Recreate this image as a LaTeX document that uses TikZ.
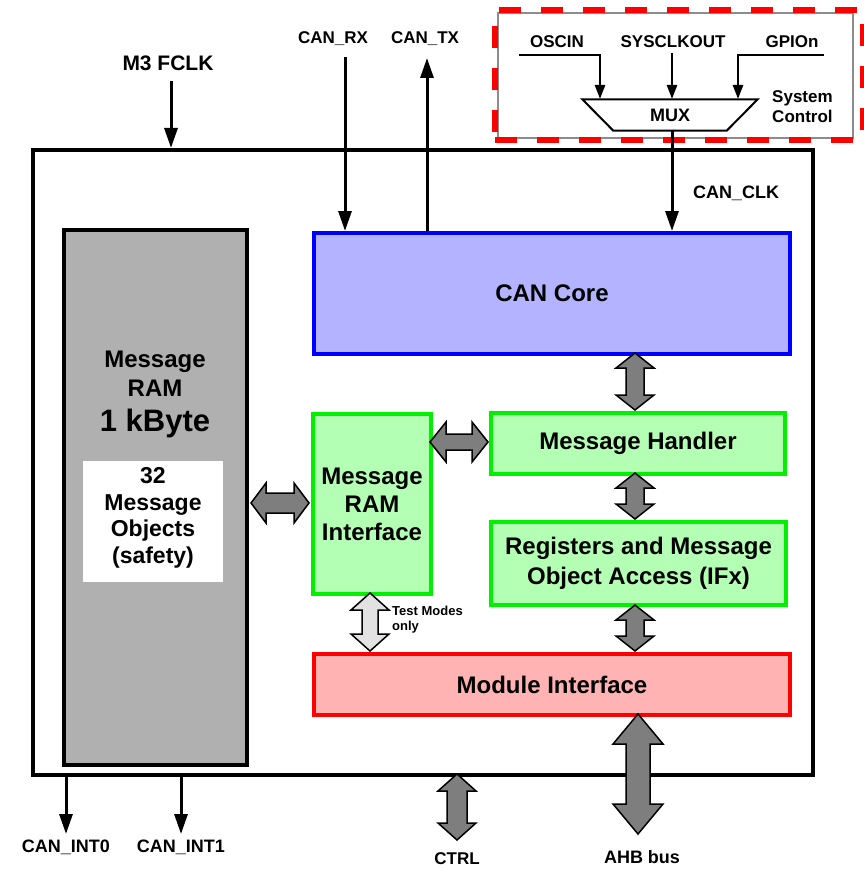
\documentclass[tikz,border=0pt]{standalone}
\usepackage{fontspec}
\setmainfont{Liberation Sans}
\usetikzlibrary{arrows.meta,calc,positioning}

\definecolor{coreblue}{HTML}{B3B3FF}
\definecolor{ramgreen}{HTML}{B3FFB3}
\definecolor{edgegreen}{HTML}{00F000}
\definecolor{modred}{HTML}{FFB3B3}
\definecolor{ramgray}{HTML}{B0B0B0}
\definecolor{busgray}{HTML}{7E7E7E}
\definecolor{testgray}{HTML}{E2E2E2}

% double block arrow, vertical: top, bottom, shaft half, head half, head length, fill
\newcommand{\vbus}[6]{%
  \draw[busline, fill=#6] (#1) -- ++(#4,#5) -- ++({#3-#4},0) -- ($(#2)+(#3,-#5)$)
    -- ++({#4-#3},0) -- (#2) -- ++(-#4,-#5) -- ++({#4-#3},0) -- ($(#1)+(-#3,#5)$)
    -- ++({#3-#4},0) -- cycle;}
% double block arrow, horizontal: left, right, shaft half, head half, head length, fill
\newcommand{\hbus}[6]{%
  \draw[busline, fill=#6] (#1) -- ++(#5,-#4) -- ++(0,{#4-#3}) -- ($(#2)+(-#5,-#3)$)
    -- ++(0,{#3-#4}) -- (#2) -- ++(-#5,#4) -- ++(0,{#3-#4}) -- ($(#1)+(#5,#3)$)
    -- ++(0,{#4-#3}) -- cycle;}

\begin{document}
\begin{tikzpicture}[x=1pt, y=-1pt,
	box/.style={draw, line width=4pt, anchor=north west, inner sep=0pt, align=center, font=\bfseries\fontsize{24}{29}\selectfont},
	lbl/.style={font=\bfseries\fontsize{17}{20}\selectfont, inner sep=0pt, align=center},
	sig/.style={line width=3pt, -{Triangle[length=20pt,width=13pt]}},
	muxin/.style={line width=2.5pt, -{Triangle[length=14pt,width=10pt]}},
	busline/.style={line width=1.5pt, draw=black, line join=miter}]
	\useasboundingbox[fill=white] (0,0) rectangle (863,869);

	% system control
	\draw[gray!90, line width=2pt] (498,13) rectangle (853,138);
	\node[draw=red, line width=6pt, dash pattern=on 22pt off 20pt, anchor=north west, minimum width=368pt, minimum height=130pt] (sysbox) at (492,7) {};
	\node[minimum width=175pt, minimum height=31pt, inner sep=0pt, font=\bfseries\fontsize{18}{20}\selectfont] (mux) at (670,115) {MUX};
	\draw[line width=2pt] (mux.north west) -- (mux.north east) -- ($(mux.south east)+(-31,0)$) -- ($(mux.south west)+(31,0)$) -- cycle;
	\node[lbl] (osc) at (557,42) {OSCIN};
	\node[lbl] (sysclk) at (673,42) {SYSCLKOUT};
	\node[lbl] (gpio) at (792,42) {GPIOn};
	\node[lbl, anchor=west] (sysctl) at (772,107) {System\\Control};
	\coordinate (oscin) at (519,55);
	\coordinate (sysin) at (672,53);
	\coordinate (gpioin) at (824,55);
	\coordinate (in1) at (600,99);
	\coordinate (in2) at (672,99);
	\coordinate (in3) at (738,99);
	\draw[muxin] (oscin) -| (in1);
	\draw[muxin] (sysin) -- (in2);
	\draw[muxin] (gpioin) -| (in3);

	% can module
	\node[box, line width=4pt, minimum width=780pt, minimum height=625pt] (can) at (31,148) {};
	\node[box, fill=ramgray, minimum width=183pt, minimum height=535pt] (ram) at (62,228) {};
	\node[anchor=north west, fill=white, minimum width=140pt, minimum height=121pt] (objbox) at (83,461) {};
	\node[lbl, font=\bfseries\fontsize{24}{29}\selectfont] (ramlbl) at (155,374) {Message\\RAM};
	\node[lbl, font=\bfseries\fontsize{31}{34}\selectfont] (ramsize) at (155,423) {1 kByte};
	\node[lbl, font=\bfseries\fontsize{23}{26.5}\selectfont] (objs) at (153,518) {32\\Message\\Objects\\(safety)};

	\node[box, draw=blue, fill=coreblue, minimum width=476pt, minimum height=121pt] (core) at (312,231) {CAN Core};
	\node[box, draw=edgegreen, fill=ramgreen, minimum width=118pt, minimum height=180pt, font=\bfseries\fontsize{24}{28}\selectfont] (mri) at (311,412) {Message\\RAM\\Interface};
	\node[box, draw=edgegreen, fill=ramgreen, minimum width=294pt, minimum height=61pt] (handler) at (489,411) {Message Handler};
	\node[box, draw=edgegreen, fill=ramgreen, minimum width=295pt, minimum height=83pt, font=\bfseries\fontsize{24}{30}\selectfont] (regs) at (489,520) {Registers and Message\\Object Access (IFx)};
	\node[box, draw=red, fill=modred, minimum width=476pt, minimum height=61pt] (modif) at (312,652) {Module Interface};

	% signals
	\node[lbl, font=\bfseries\fontsize{21}{24}\selectfont] (fclk) at (168,63) {M3 FCLK};
	\node[lbl] (rx) at (333,39) {CAN\_RX};
	\node[lbl] (tx) at (425,39) {CAN\_TX};
	\node[lbl, font=\bfseries\fontsize{18}{20}\selectfont] (clk) at (736,193) {CAN\_CLK};
	\coordinate (fclkin) at (171,81);
	\coordinate (rxin) at (345,57);
	\coordinate (txout) at (427,58);
	\coordinate (clkout) at (672,131);
	\draw[sig] (fclkin) -- (fclkin |- can.north);
	\draw[sig] (rxin) -- (rxin |- core.north);
	\draw[sig] (txout |- core.north) -- (txout);
	\draw[sig] (clkout) -- (clkout |- core.north);

	\node[lbl, font=\bfseries\fontsize{18}{20}\selectfont] (int0) at (66,847) {CAN\_INT0};
	\node[lbl, font=\bfseries\fontsize{18}{20}\selectfont] (int1) at (181,847) {CAN\_INT1};
	\node[lbl, font=\bfseries\fontsize{17}{20}\selectfont] (ctrl) at (457,859) {CTRL};
	\node[lbl, font=\bfseries\fontsize{18}{20}\selectfont] (ahb) at (642,857) {AHB bus};
	\coordinate (int0out) at (66,834);
	\coordinate (int1out) at (181,834);
	\draw[sig] (int0out |- can.south) -- (int0out);
	\draw[sig] (int1out |- can.south) -- (int1out);

	% block arrows
	\coordinate (b1) at (635,353);  \coordinate (b2) at (635,410);
	\coordinate (b3) at (635,473);  \coordinate (b4) at (635,519);
	\coordinate (b5) at (635,605);  \coordinate (b6) at (635,651);
	\coordinate (h1) at (251,503);  \coordinate (h2) at (309,503);
	\coordinate (h3) at (430,442);  \coordinate (h4) at (488,442);
	\coordinate (t1) at (370,593);  \coordinate (t2) at (370,651);
	\coordinate (c1) at (457,774);  \coordinate (c2) at (457,840);
	\coordinate (a1) at (638,714);  \coordinate (a2) at (638,834);
	\vbus{b1}{b2}{9}{19}{15}{busgray}
	\vbus{b3}{b4}{9}{19}{15}{busgray}
	\vbus{b5}{b6}{9}{19}{15}{busgray}
	\hbus{h1}{h2}{10}{20}{15}{busgray}
	\hbus{h3}{h4}{8}{20}{16}{busgray}
	\vbus{t1}{t2}{8}{19}{17}{testgray}
	\vbus{c1}{c2}{10}{19}{17}{busgray}
	\vbus{a1}{a2}{12}{25}{30}{busgray}
	\node[lbl, anchor=west, align=left, font=\bfseries\fontsize{13}{15}\selectfont] (test) at (392,620) {Test Modes\\only};
\end{tikzpicture}
\end{document}
